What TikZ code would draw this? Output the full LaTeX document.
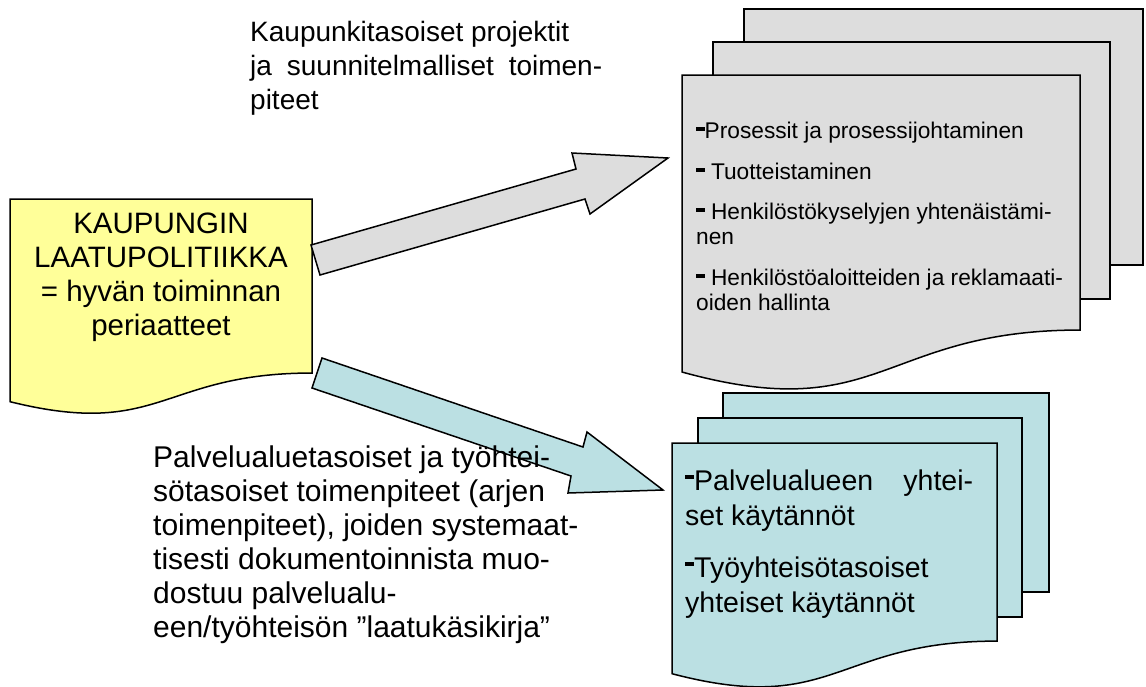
\documentclass[tikz,border=0pt]{standalone}
\usepackage{fontspec}
\setmainfont{Liberation Sans}
\definecolor{docyellow}{RGB}{255,255,153}
\definecolor{docgray}{RGB}{221,221,221}
\definecolor{docteal}{RGB}{187,224,227}

% page with a wavy lower edge: #1 style, #2 left, #3 top, #4 width, #5 height
\newcommand\wavedoc[5]{%
  \draw[#1] (#2,#3) -- ({#2+#4},#3) -- ({#2+#4},{#3+0.802*#5})
    .. controls ({#2+0.5*#4},{#3+0.802*#5}) and ({#2+0.5*#4},{#3+1.107*#5})
    .. (#2,{#3+0.934*#5}) -- cycle;}
% raised bold dash used as a bullet
\newcommand\smalldash{\rule[7.5pt]{8.5pt}{3.5pt}}
\newcommand\bigdash{\rule[11pt]{9pt}{4pt}}

\begin{document}
\begin{tikzpicture}[x=1pt,y=-1pt,
  outline/.style={draw=black,line width=1.5pt,line join=miter},
  graypage/.style={outline,fill=docgray},
  tealpage/.style={outline,fill=docteal},
  yellowpage/.style={outline,fill=docyellow},
  labeltxt/.style={inner sep=0pt,font=\fontsize{28}{34}\selectfont},
  policytxt/.style={inner sep=0pt,font=\fontsize{29.5}{34}\selectfont},
  notetxt/.style={inner sep=0pt,font=\fontsize{30}{34}\selectfont},
  listtxt/.style={inner sep=0pt,font=\fontsize{28.5}{34}\selectfont},
  smalltxt/.style={inner sep=0pt,font=\fontsize{22.7}{25}\selectfont}]

\fill[white] (0,0) rectangle (1146,686);
\useasboundingbox (0,0) rectangle (1146,686);

% city-level stack of pages
\draw[graypage] (744,9) rectangle (1143,265);
\draw[graypage] (713,42) rectangle (1110,299);
\wavedoc{graypage}{682}{75}{398}{318}

% service-area stack of pages
\draw[tealpage] (723,393) rectangle (1049,592);
\draw[tealpage] (698,418) rectangle (1022,617);
\wavedoc{tealpage}{672}{443}{325}{247}

% quality policy page
\wavedoc{yellowpage}{10}{199}{302}{217}

% block arrows
\draw[graypage] (311,245) -- (576,169) -- (572,153) -- (668,158)
  -- (590,214) -- (585,199) -- (320,275) -- cycle;
\draw[tealpage] (322,358) -- (583,447) -- (587,432) -- (663,490)
  -- (568,493) -- (571,476) -- (312,388) -- cycle;

% texts
\node[policytxt,anchor=base] (policy) at (161,233)
  {\begin{tabular}[t]{@{}c@{}}KAUPUNGIN\\ LAATUPOLITIIKKA\\ = hyvän toiminnan\\ periaatteet\end{tabular}};

\node[labeltxt,anchor=base west] (citylabel) at (250,41)
  {\begin{tabular}[t]{@{}l@{}}Kaupunkitasoiset projektit\\
   \makebox[352pt][s]{ja suunnitelmalliset toimen-}\\ piteet\end{tabular}};

\node[notetxt,anchor=base west] (unitlabel) at (153,467)
  {\begin{tabular}[t]{@{}l@{}}Palvelualuetasoiset ja työhtei-\\
   sötasoiset toimenpiteet (arjen\\
   toimenpiteet), joiden systemaat-\\
   tisesti dokumentoinnista muo-\\
   dostuu palvelualu-\\
   een/työhteisön ”laatukäsikirja”\end{tabular}};

\node[smalltxt,anchor=base west] (citylist) at (696,138)
  {\begin{tabular}[t]{@{}l@{}}\smalldash Prosessit ja prosessijohtaminen\\[16pt]
   \smalldash{} Tuotteistaminen\\[15pt]
   \smalldash{} Henkilöstökyselyjen yhtenäistämi-\\
   nen\\[16pt]
   \smalldash{} Henkilöstöaloitteiden ja reklamaati-\\
   oiden hallinta\end{tabular}};

\node[listtxt,anchor=base west] (unitlist) at (685,490)
  {\begin{tabular}[t]{@{}l@{}}\makebox[288pt][s]{\bigdash Palvelualueen yhtei-}\\[1pt]
   set käytännöt\\[18pt]
   \bigdash Työyhteisötasoiset\\[1pt]
   yhteiset käytännöt\end{tabular}};
\end{tikzpicture}
\end{document}
